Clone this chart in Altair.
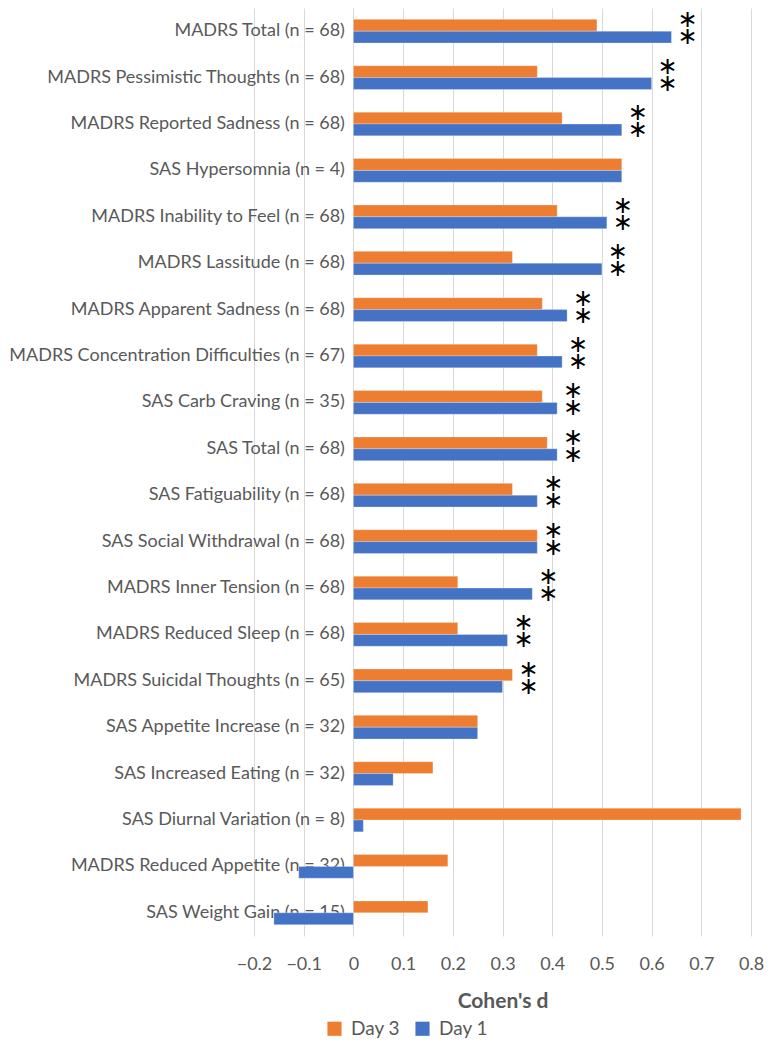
import altair as alt
import pandas as pd

categories = [
    "MADRS Total (n = 68)",
    "MADRS Pessimistic Thoughts (n = 68)",
    "MADRS Reported Sadness (n = 68)",
    "SAS Hypersomnia (n = 4)",
    "MADRS Inability to Feel (n = 68)",
    "MADRS Lassitude (n = 68)",
    "MADRS Apparent Sadness (n = 68)",
    "MADRS Concentration Difficulties (n = 67)",
    "SAS Carb Craving (n = 35)",
    "SAS Total (n = 68)",
    "SAS Fatiguability (n = 68)",
    "SAS Social Withdrawal (n = 68)",
    "MADRS Inner Tension (n = 68)",
    "MADRS Reduced Sleep (n = 68)",
    "MADRS Suicidal Thoughts (n = 65)",
    "SAS Appetite Increase (n = 32)",
    "SAS Increased Eating (n = 32)",
    "SAS Diurnal Variation (n = 8)",
    "MADRS Reduced Appetite (n = 32)",
    "SAS Weight Gain (n = 15)",
]
day3 = [0.49, 0.37, 0.42, 0.54, 0.41, 0.32, 0.38, 0.37, 0.38, 0.39,
        0.32, 0.37, 0.21, 0.21, 0.32, 0.25, 0.16, 0.78, 0.19, 0.15]
day1 = [0.64, 0.60, 0.54, 0.54, 0.51, 0.50, 0.43, 0.42, 0.41, 0.41,
        0.37, 0.37, 0.36, 0.31, 0.30, 0.25, 0.08, 0.02, -0.11, -0.16]
significant = [True, True, True, False, True, True, True, True, True, True,
               True, True, True, True, True, False, False, False, False, False]
series = ["Day 3", "Day 1"]
colors = ["#ED7D31", "#4472C4"]
x_ticks = [-0.2, -0.1, 0, 0.1, 0.2, 0.3, 0.4, 0.5, 0.6, 0.7, 0.8]

W = 497
H = 928
FONT = "Lato"
GREY = "#595959"

rows = []
for c, v3, v1 in zip(categories, day3, day1):
    rows.append({"category": c, "series": "Day 3", "value": v3})
    rows.append({"category": c, "series": "Day 1", "value": v1})
df = pd.DataFrame(rows)

sig_df = pd.DataFrame({
    "category": [c for c, s in zip(categories, significant) if s],
    "pos": [max(a, b) for a, b, s in zip(day3, day1, significant) if s],
})

y_enc = alt.Y("category:N", sort=categories,
              scale=alt.Scale(paddingInner=0.49, paddingOuter=0.245),
              axis=alt.Axis(title=None, domain=False, ticks=False, grid=False,
                            labelFontSize=18, labelColor=GREY, labelFont=FONT,
                            labelLimit=500, labelPadding=9, offset=-0.2 * W))
x_scale = alt.Scale(domain=[-0.2, 0.8], nice=False, zero=False)

bars = alt.Chart(df).mark_bar(stroke="white", strokeOpacity=0.35, strokeWidth=0.8).encode(
    y=y_enc,
    yOffset=alt.YOffset("series:N", sort=series),
    x=alt.X("value:Q", scale=x_scale,
            axis=alt.Axis(values=x_ticks, title="Cohen's d",
                          labelExpr="datum.value == 0 ? '0' : format(datum.value, '.1f')",
                          labelOverlap=False, labelFlush=False,
                          grid=True, gridColor="#d9d9d9", domain=False, ticks=False,
                          labelFontSize=18, labelColor=GREY, labelFont=FONT,
                          labelPadding=19,
                          titleFont=FONT, titleFontSize=21, titleFontWeight="bold",
                          titleColor=GREY, titlePadding=17)),
    color=alt.Color("series:N", sort=series,
                    scale=alt.Scale(domain=series, range=colors),
                    legend=alt.Legend(title=None, orient="none", direction="horizontal",
                                      legendX=71, legendY=H + 83,
                                      symbolType="square", symbolSize=200,
                                      symbolStrokeWidth=0,
                                      labelFontSize=19, labelColor=GREY, labelFont=FONT,
                                      columnPadding=12, labelOffset=7)),
)

ast_top = alt.Chart(sig_df).mark_text(
    text="∗", font="DejaVu Sans", fontSize=24, color="black",
    align="center", baseline="middle", dx=16, dy=-11,
).encode(y=alt.Y("category:N", sort=categories), x=alt.X("pos:Q"))

ast_bot = alt.Chart(sig_df).mark_text(
    text="∗", font="DejaVu Sans", fontSize=24, color="black",
    align="center", baseline="middle", dx=16, dy=6,
).encode(y=alt.Y("category:N", sort=categories), x=alt.X("pos:Q"))

chart = alt.layer(bars, ast_top, ast_bot).properties(
    width=W, height=H,
    padding={"left": 0, "top": 0, "right": 0, "bottom": 0},
).configure_view(stroke=None)

chart.save("out.html", embed_options={"renderer": "svg", "actions": False})
